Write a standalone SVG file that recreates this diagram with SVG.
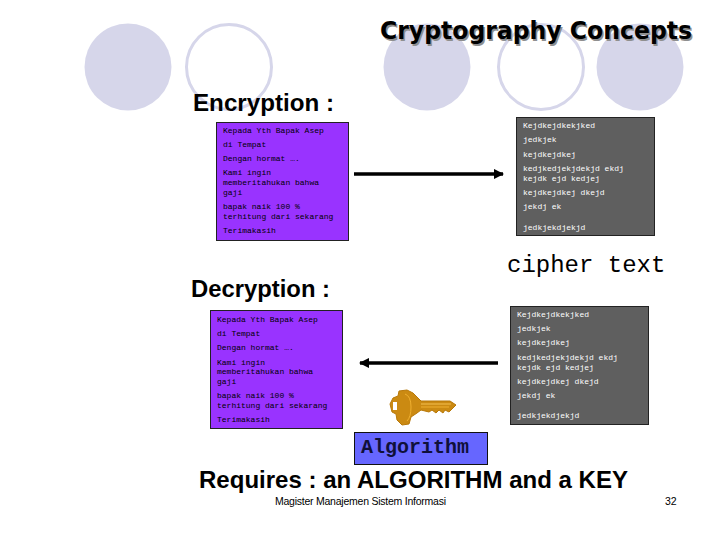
<svg xmlns="http://www.w3.org/2000/svg" width="720" height="540" viewBox="0 0 720 540">
<style>
.full{fill:#d6d6ea}
.ring{fill:none;stroke:#d6d6ea;stroke-width:3}
.head{font-family:"Liberation Sans",Arial,sans-serif;fill:#000}
.bold{font-weight:700;font-size:24px}
.mono{font-family:"Liberation Mono","Courier New",monospace}
.p{fill:#9933ff;stroke:#222;stroke-width:1}
.g{fill:#5f5f5f;stroke:#222;stroke-width:1}
.pt{font-family:"Liberation Mono","Courier New",monospace;font-size:8px;fill:#000}
.gt{font-family:"Liberation Mono","Courier New",monospace;font-size:8px;fill:#fff}
.conn{stroke:#000;stroke-width:3.500;fill:none}
</style>
<defs>
<marker id="ah" viewBox="0 0 10 10" refX="9" refY="5" markerWidth="3" markerHeight="3" orient="auto-start-reverse"><path d="M0 0L10 5L0 10Z" fill="#000"/></marker>
</defs>
<rect width="720" height="540" fill="#fff"/>
<g id="decor">
<circle class="full" cx="128" cy="67" r="43.5"/>
<circle class="ring" cx="229" cy="67" r="42.5"/>
<circle class="full" cx="427" cy="67" r="43.5"/>
<circle class="ring" cx="541" cy="67" r="42.5"/>
<circle class="full" cx="640" cy="67" r="43.5"/>
</g>
<g id="title"><text class="head" x="380" y="39" font-size="24" font-weight="700" style="font-family:'DejaVu Sans',sans-serif;text-shadow:1.500px 1.500px 0 #8f8f8f" textLength="312" lengthAdjust="spacingAndGlyphs">Cryptography Concepts</text></g>
<g id="encryption-label"><text class="head bold" x="193" y="111" textLength="141" lengthAdjust="spacingAndGlyphs">Encryption :</text></g>
<g id="plaintext-1">
<rect class="p" x="216.500" y="122.500" width="132" height="118"/>
<text class="pt" x="223" y="133">Kepada Yth Bapak Asep</text>
<text class="pt" x="223" y="147">di Tempat</text>
<text class="pt" x="223" y="161">Dengan hormat ….</text>
<text class="pt" x="223" y="175">Kami ingin</text>
<text class="pt" x="223" y="185">memberitahukan bahwa</text>
<text class="pt" x="223" y="195">gaji</text>
<text class="pt" x="223" y="209">bapak naik 100 %</text>
<text class="pt" x="223" y="219">terhitung dari sekarang</text>
<text class="pt" x="223" y="233">Terimakasih</text>
</g>
<g id="ciphertext-1">
<rect class="g" x="516.500" y="117.500" width="138" height="118"/>
<text class="gt" x="523" y="128">Kejdkejdkekjked</text>
<text class="gt" x="523" y="142">jedkjek</text>
<text class="gt" x="523" y="157">kejdkejdkej</text>
<text class="gt" x="523" y="171">kedjkedjekjdekjd ekdj</text>
<text class="gt" x="523" y="181">kejdk ejd kedjej</text>
<text class="gt" x="523" y="195">kejdkejdkej dkejd</text>
<text class="gt" x="523" y="209">jekdj ek</text>
<text class="gt" x="523" y="230">jedkjekdjekjd</text>
</g>
<g id="connectors">
<line class="conn" x1="354" y1="174" x2="503" y2="174" marker-end="url(#ah)"/>
<line class="conn" x1="498" y1="363" x2="360" y2="363" marker-end="url(#ah)"/>
</g>
<g id="cipher-label"><text class="mono" x="507" y="272" font-size="24" fill="#000">cipher text</text></g>
<g id="decryption-label"><text class="head bold" x="191" y="297" textLength="139" lengthAdjust="spacingAndGlyphs">Decryption :</text></g>
<g id="plaintext-2">
<rect class="p" x="210.500" y="310.500" width="132" height="118"/>
<text class="pt" x="217" y="322">Kepada Yth Bapak Asep</text>
<text class="pt" x="217" y="336">di Tempat</text>
<text class="pt" x="217" y="350">Dengan hormat ….</text>
<text class="pt" x="217" y="365">Kami ingin</text>
<text class="pt" x="217" y="374">memberitahukan bahwa</text>
<text class="pt" x="217" y="384">gaji</text>
<text class="pt" x="217" y="398">bapak naik 100 %</text>
<text class="pt" x="217" y="408">terhitung dari sekarang</text>
<text class="pt" x="217" y="422">Terimakasih</text>
</g>
<g id="ciphertext-2">
<rect class="g" x="510.500" y="306.500" width="138" height="118"/>
<text class="gt" x="517" y="317">Kejdkejdkekjked</text>
<text class="gt" x="517" y="331">jedkjek</text>
<text class="gt" x="517" y="345">kejdkejdkej</text>
<text class="gt" x="517" y="360">kedjkedjekjdekjd ekdj</text>
<text class="gt" x="517" y="370">kejdk ejd kedjej</text>
<text class="gt" x="517" y="384">kejdkejdkej dkejd</text>
<text class="gt" x="517" y="398">jekdj ek</text>
<text class="gt" x="517" y="418">jedkjekdjekjd</text>
</g>
<g id="key">
<path d="M390 404L393 398L398 396L399 391L407 390L413 393L417 397L421 401L450 401L456 405L452 409L449 412L445 410L443 413L439 410L436 413L432 410L429 412L421 410L417 413L411 417L409 424L402 425L397 420L396 414L392 412Z" fill="#cb8a12" stroke="#b87808" stroke-width="1"/>
<path d="M405 394Q411 396 411 407Q411 417 407 421" fill="none" stroke="#f0b030" stroke-width="1"/>
<line x1="421" y1="404" x2="451" y2="404" stroke="#f4c050" stroke-width="1"/>
<line x1="421" y1="407" x2="449" y2="407" stroke="#f0b030" stroke-width="1"/>
<rect x="393" y="402" width="4" height="8" fill="#fff"/>
</g>
<g id="algorithm">
<rect x="354.500" y="432.500" width="133" height="32" fill="#6666ff" stroke="#111" stroke-width="1"/>
<text class="mono" x="361" y="453" font-size="20" font-weight="700" fill="#10103a">Algorithm</text>
</g>
<g id="requires"><text class="head bold" x="199" y="488" textLength="429" lengthAdjust="spacingAndGlyphs">Requires : an ALGORITHM and a KEY</text></g>
<g id="footer">
<text class="head" x="275" y="505" font-size="10.500" textLength="171">Magister Manajemen Sistem Informasi</text>
<text class="head" x="665" y="505" font-size="10.500">32</text>
</g>
</svg>
